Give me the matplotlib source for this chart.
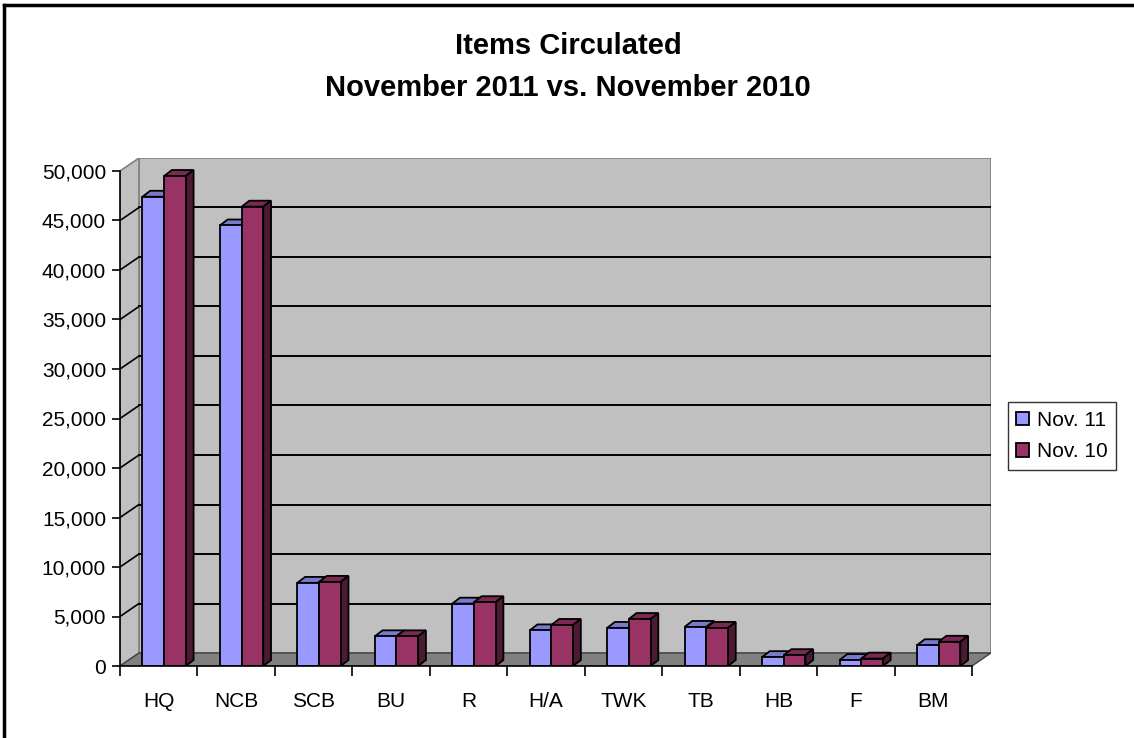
import matplotlib.pyplot as plt
import numpy as np
from matplotlib.patches import Polygon, Rectangle
from matplotlib.lines import Line2D

# data
categories = ['HQ', 'NCB', 'SCB', 'BU', 'R', 'H/A', 'TWK', 'TB', 'HB', 'F', 'BM']
nov_11 = [47400, 44500, 8400, 3000, 6300, 3600, 3850, 3950, 900, 600, 2100]
nov_10 = [49500, 46400, 8500, 3000, 6450, 4150, 4750, 3850, 1100, 750, 2450]
series_names = ['Nov. 11', 'Nov. 10']
y_ticks = np.arange(0, 50001, 5000)

plt.rcParams['font.family'] = ['Liberation Sans', 'DejaVu Sans']

W, H = 1134, 738
fig = plt.figure(figsize=(W / 100, H / 100), dpi=100)

# 3d depth of the chart box (pixels converted to data units)
px_x = 77.45          # px per category
px_y = 9.9 / 1000     # px per unit
DX = 19 / px_x
DY = 13 / px_y
ymax = 50000

left, right, bottom, top = 120, 120 + 11 * px_x + 19, 666, 171 - 13
ax = fig.add_axes([left / W, (H - bottom) / H, (right - left) / W, (bottom - top) / H])
ax.set_xlim(-0.5, 10.5 + DX)
ax.set_ylim(0, ymax + DY)
ax.patch.set_visible(False)

n = len(categories)
x = np.arange(n)

# walls and floor
x0, x1 = -0.5, n - 0.5
ax.add_patch(Rectangle((x0 + DX, DY), n, ymax, facecolor='#C0C0C0', edgecolor='#808080', lw=1.2, zorder=0))
ax.add_patch(Polygon([(x0, 0), (x0 + DX, DY), (x0 + DX, ymax + DY), (x0, ymax)],
                     closed=True, facecolor='#C0C0C0', edgecolor='#808080', lw=1.2, zorder=0))
ax.add_patch(Polygon([(x0, 0), (x1, 0), (x1 + DX, DY), (x0 + DX, DY)],
                     closed=True, facecolor='#808080', edgecolor='#404040', lw=1.0, zorder=0.5))
for v in y_ticks[1:-1]:
    ax.plot([x0 + DX, x1 + DX], [v + DY, v + DY], color='black', lw=1.4, zorder=1)
    ax.plot([x0, x0 + DX], [v, v + DY], color='black', lw=1.2, zorder=1)

# bars with 3d sides
bw = 0.28
bdx = 0.1
bdy = 600
styles = [('#9999FF', '#7A7ACC', '#4D4D80'), ('#993366', '#7A2952', '#4D1A33')]
offsets = [-0.07, 0.21]
handles = []
for k, vals in enumerate([nov_11, nov_10]):
    front, topc, side = styles[k]
    z = 3 + k
    bars = ax.bar(x + offsets[k], vals, bw, color=front, edgecolor='black', lw=1.3,
                  zorder=z + 0.5, label=series_names[k])
    handles.append(bars)
    for rect in bars:
        a = rect.get_x()
        b = a + rect.get_width()
        h = rect.get_height()
        ax.add_patch(Polygon([(a, h), (a + bdx, h + bdy), (b + bdx, h + bdy), (b, h)],
                             closed=True, facecolor=topc, edgecolor='black', lw=1.3, zorder=z))
        ax.add_patch(Polygon([(b, 0), (b + bdx, bdy), (b + bdx, h + bdy), (b, h)],
                             closed=True, facecolor=side, edgecolor='black', lw=1.3, zorder=z))

# axes
for s in ['top', 'right']:
    ax.spines[s].set_visible(False)
ax.spines['left'].set_bounds(0, ymax)
ax.spines['bottom'].set_bounds(x0, x1)
ax.spines['left'].set_linewidth(1.2)
ax.spines['bottom'].set_linewidth(1.2)
ax.spines['left'].set_zorder(6)
ax.spines['bottom'].set_zorder(6)
ax.set_yticks(y_ticks)
ax.set_yticklabels(['{:,}'.format(v) for v in y_ticks])
ax.set_xticks(np.arange(n + 1) - 0.5)
ax.set_xticklabels([])
ax.set_xticks(x, minor=True)
ax.set_xticklabels(categories, minor=True)
ax.tick_params(axis='y', direction='out', length=6, width=1.2, labelsize=15, pad=4)
ax.tick_params(axis='x', which='major', direction='out', length=7, width=1.2)
ax.tick_params(axis='x', which='minor', length=0, labelsize=15, pad=19)

# title
fig.text(568 / W, 1 - 46 / H, 'Items Circulated', ha='center', va='center',
         fontsize=21, fontweight='bold')
fig.text(568 / W, 1 - 88 / H, 'November 2011 vs. November 2010', ha='center', va='center',
         fontsize=21, fontweight='bold')

# legend
fig.legend(handles=handles, labels=series_names, loc='center left',
           bbox_to_anchor=(1008 / W, 1 - 436 / H), frameon=True, fancybox=False,
           edgecolor='black', fontsize=15, handlelength=0.6, handleheight=0.6,
           handletextpad=0.4, borderpad=0.4, labelspacing=0.6, borderaxespad=0)

# outer border (left and top edges visible)
fig.add_artist(Line2D([4 / W, 4 / W], [0, 1 - 5 / H], color='black', lw=2.5))
fig.add_artist(Line2D([4 / W, 1], [1 - 5 / H, 1 - 5 / H], color='black', lw=2.5))

fig.savefig('out.png', dpi=100)
